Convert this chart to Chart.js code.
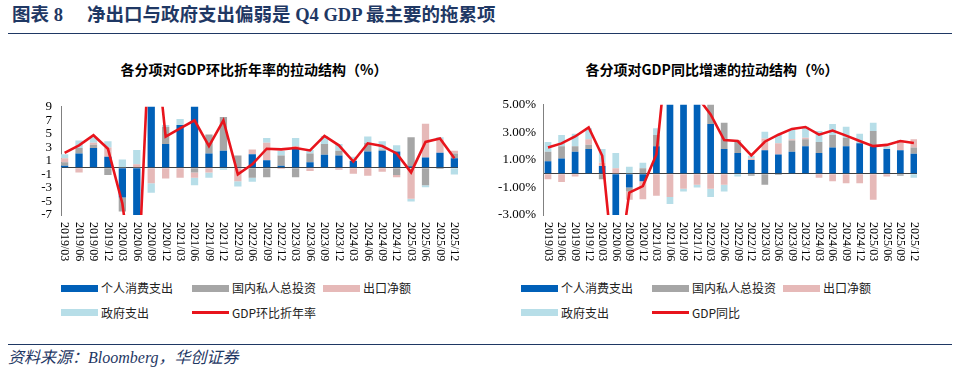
<!DOCTYPE html>
<html><head><meta charset="utf-8">
<script src="https://cdn.jsdelivr.net/npm/chart.js@4.4.1/dist/chart.umd.min.js"></script>
<style>
html,body{margin:0;padding:0;background:#fff;}
#page{position:relative;width:960px;height:380px;overflow:hidden;background:#fff;}
.abs{position:absolute;white-space:nowrap;}
.ttl{font-family:"Liberation Serif","Noto Sans CJK SC",serif;font-weight:700;font-size:18.5px;line-height:22px;color:#1f3864;top:4px;}
.rule{position:absolute;left:8px;width:944px;height:0;border-top:1.5px solid #1f3864;}
.ptitle{position:absolute;white-space:nowrap;transform:translateX(-50%);top:59px;font-family:"Noto Sans CJK SC",sans-serif;font-weight:700;font-size:14px;line-height:20px;color:#000;}
.foot{font-family:"Liberation Serif","Noto Sans CJK SC",serif;font-style:italic;font-size:16px;line-height:20px;color:#1f3864;}
.lgi{position:absolute;height:16px;font-family:"Noto Sans CJK SC",sans-serif;font-size:12px;line-height:16px;color:#222;white-space:nowrap;}
.lgi .sw{position:absolute;left:0;width:37px;}
.lgi .tx{position:absolute;left:40px;top:0;}
canvas{position:absolute;}
</style></head><body>
<div id="page">
  <div class="abs ttl" style="left:12px;">图表 8</div>
  <div class="abs ttl" style="left:87px;">净出口与政府支出偏弱是 Q4 GDP 最主要的拖累项</div>
  <div class="rule" style="top:33px"></div>
  <div class="ptitle" style="left:254px">各分项对GDP环比折年率的拉动结构（%）</div>
  <div class="ptitle" style="left:712px">各分项对GDP同比增速的拉动结构（%）</div>
  <canvas id="c1" width="480" height="185" style="left:0;top:90px;width:480px;height:185px"></canvas>
  <canvas id="c2" width="480" height="185" style="left:480px;top:90px;width:480px;height:185px"></canvas>
  <div id="lg1"></div>
  <div id="lg2"></div>
  <div class="rule" style="top:344px"></div>
  <div class="abs foot" style="left:8px;top:348px">资料来源：Bloomberg，华创证券</div>
</div>
<script>
// ---------- data ----------
const quarters = ['2019/03','2019/06','2019/09','2019/12','2020/03','2020/06','2020/09','2020/12',
  '2021/03','2021/06','2021/09','2021/12','2022/03','2022/06','2022/09','2022/12',
  '2023/03','2023/06','2023/09','2023/12','2024/03','2024/06','2024/09','2024/12',
  '2025/03','2025/06','2025/09','2025/12'];
const seriesNames = ['个人消费支出','国内私人总投资','出口净额','政府支出'];
const qoqLineName = 'GDP环比折年率';
const yoyLineName = 'GDP同比';

// contributions to QoQ annualized GDP (pp)
const qoqPce   = [0.3,2.1,2.9,1.6,-4.4,-20,25,3.5,6.3,10.5,2.1,2.5,0.1,2.0,1.1,0.3,2.8,0.8,1.9,1.8,1.0,2.4,2.5,2.4,0.2,1.5,2.2,1.4];
const qoqInv   = [0.5,0.8,0.5,-1.1,-2.1,-6,10,2.5,-0.1,-0.7,2.8,5.0,1.7,-1.5,-1.4,1.5,-1.4,1.3,1.6,0.7,0,1.3,0.2,-1.1,4.3,-2.6,-0.2,0.7];
const qoqNx    = [0.6,-0.7,0.3,1.4,0,0.5,-2.3,-1.6,-1.4,-0.8,-0.7,0,-2.0,0.7,2.6,-0.2,0.4,-0.5,-0.1,-0.3,-0.9,-1.2,-0.6,-0.3,-4.6,5.0,2.0,0.4];
const qoqGov   = [0.6,1.1,0.8,0.9,1.2,2.1,-1.4,0.3,0.9,-1.1,-0.8,-0.3,-0.8,-0.6,0.7,0.7,1.2,0.5,1.2,1.0,0.6,0.9,1.2,0.9,-0.4,-0.3,0.3,-1.0];
const qoqGdp   = [2.2,3.3,4.8,2.8,-5.3,-21,25,4.6,5.8,7.0,3.2,7.0,-1.0,0.5,2.8,2.7,2.9,2.55,4.7,3.3,0.9,3.6,3.2,2.1,-0.7,3.8,4.3,1.4];

// contributions to YoY GDP (pp)
const yoyPce   = [0.9,1.1,1.6,1.8,0.55,-6,-1.0,-0.55,2.0,9.0,5.5,5.2,3.6,1.8,1.5,1.0,1.7,1.4,1.6,2.0,1.5,1.9,2.0,2.2,2.0,1.8,1.7,1.45];
const yoyInv   = [0.7,0.9,0.4,0.3,-0.4,-3,-0.3,0.4,0.8,2.5,1.5,2.0,1.6,1.9,0.8,-0.15,-0.8,-0.1,0.8,0.5,0.8,0.9,0.6,0,1.1,0,-0.15,0.45];
const yoyNx    = [-0.4,-0.6,-0.2,0.4,0.25,0.4,-0.6,-1.3,-1.6,-1.7,-1.1,-0.8,-1.1,-0.8,0.15,0.1,0.85,0.8,0.1,0.1,-0.3,-0.55,-0.7,-0.7,-1.9,-0.2,0.6,0.6];
const yoyGov   = [0.7,0.8,0.9,0.8,1.0,1.1,0.5,0.4,0.5,-0.5,-0.2,-0.2,-0.6,-0.5,-0.2,0.2,0.5,0.6,0.7,0.8,0.8,0.8,0.8,0.7,0.6,0.2,0.15,-0.3];
const yoyGdp   = [1.9,2.2,2.7,3.35,1.3,-8.5,-1.37,-0.9,1.4,11.0,5.4,5.6,4.3,2.44,2.37,1.32,2.32,2.83,3.25,3.39,2.83,3.13,2.76,2.37,2.0,2.09,2.37,2.23];

const qoqTicks = [-7,-5,-3,-1,1,3,5,7,9];
const yoyTicks = [-3,-1,1,3,5];

// ---------- styles ----------
const BAR_COLORS = ['#0060B8','#A6A6A6','#E6B9B8','#B7DEE8'];
const LINE_COLOR = '#E8141C';
const SERIF = "'Liberation Serif','Times New Roman',serif";
Chart.defaults.animation = false;
Chart.defaults.font.family = SERIF;
Chart.defaults.color = '#000';

function verticalLabels(scale, gap) {
  if (scale._vlPatched) return;
  scale._vlPatched = true;
  const orig = scale._computeLabelItems;
  scale._computeLabelItems = function (chartArea) {
    const items = orig.call(this, chartArea);
    const y0 = this.top + gap;
    items.forEach((it, i) => {
      it.options.rotation = Math.PI / 2;
      it.options.textAlign = 'left';
      it.options.textBaseline = 'middle';
      it.options.translation = [this.getPixelForTick(i), y0];
      it.textOffset = 0;
    });
    return items;
  };
}

function makeChart(id, cfg) {
  const series = [cfg.pce, cfg.inv, cfg.nx, cfg.gov];
  const datasets = series.map((arr, k) => ({
    type: 'bar',
    label: seriesNames[k],
    data: arr.map((v, i) => ({x: i, y: v})),
    backgroundColor: BAR_COLORS[k],
    borderWidth: 0,
    stack: 's',
    order: 1,
    clip: 0,
    barPercentage: cfg.barPct,
    categoryPercentage: 1
  }));
  datasets.push({
    type: 'line',
    label: cfg.lineName,
    data: cfg.gdp.map((v, i) => ({x: i, y: v})),
    borderColor: LINE_COLOR,
    backgroundColor: LINE_COLOR,
    borderWidth: 2.6,
    pointRadius: 0,
    tension: 0,
    order: 0,
    stack: 'line'
  });
  return new Chart(document.getElementById(id), {
    data: {datasets},
    options: {
      responsive: false,
      layout: {padding: {top: 10, right: cfg.padRight, left: 0, bottom: 0}},
      plugins: {legend: {display: false}, tooltip: {enabled: false}},
      scales: {
        x: {
          type: 'linear',
          min: cfg.xMin, max: cfg.xMax,
          offset: false,
          grid: {display: false},
          border: {display: false},
          afterBuildTicks: (s) => { s.ticks = quarters.map((q, i) => ({value: i})); },
          afterFit: (s) => { s.height = 60; verticalLabels(s, 7); },
          ticks: {
            autoSkip: false, minRotation: 90, maxRotation: 90, padding: 7,
            font: {size: 12, family: SERIF}, color: '#000',
            callback: (v) => quarters[v]
          }
        },
        y: {
          stacked: true,
          min: cfg.yMin, max: cfg.yMax,
          afterBuildTicks: (s) => { s.ticks = cfg.ticks.concat([0]).sort((a, b) => a - b).map(v => ({value: v})); },
          afterFit: (s) => { s.width = cfg.yWidth; },
          grid: {
            drawTicks: false,
            color: (c) => (c.tick && c.tick.value === 0) ? '#404040' : 'rgba(0,0,0,0)',
            lineWidth: 1
          },
          border: {display: true, color: '#808080', width: 1},
          ticks: {
            autoSkip: false,
            padding: cfg.tickPad,
            font: {size: 13, family: SERIF}, color: '#000',
            callback: (v) => v === 0 ? '' : cfg.fmt(v)
          }
        }
      }
    }
  });
}

const ch1 = makeChart('c1', {
  pce: qoqPce, inv: qoqInv, nx: qoqNx, gov: qoqGov, gdp: qoqGdp, lineName: qoqLineName,
  ticks: qoqTicks, yMin: -7, yMax: 9, xMin: -0.25, xMax: 27.25,
  yWidth: 61, padRight: 22, barPct: 0.505, tickPad: 9, fmt: (v) => String(v)
});
const ch2 = makeChart('c2', {
  pce: yoyPce, inv: yoyInv, nx: yoyNx, gov: yoyGov, gdp: yoyGdp, lineName: yoyLineName,
  ticks: yoyTicks, yMin: -3, yMax: 5, xMin: -0.37, xMax: 27.23,
  yWidth: 63, padRight: 43, barPct: 0.495, tickPad: 7, fmt: (v) => v.toFixed(2) + '%'
});

function buildLegend(elId, chart, x0) {
  const el = document.getElementById(elId);
  const colW = [0, 131, 262];
  const rowY = [288.3, 312.7];
  chart.data.datasets.forEach((ds, k) => {
    const col = k % 3, row = Math.floor(k / 3);
    const item = document.createElement('div');
    item.className = 'lgi';
    item.style.left = (x0 + colW[col]) + 'px';
    item.style.top = (rowY[row] - 8) + 'px';
    const sw = document.createElement('div');
    sw.className = 'sw';
    if (ds.type === 'line') {
      sw.style.top = '6.7px'; sw.style.height = '2.6px';
      sw.style.background = ds.borderColor;
    } else {
      sw.style.top = '4.5px'; sw.style.height = '7px';
      sw.style.background = ds.backgroundColor;
    }
    const tx = document.createElement('div');
    tx.className = 'tx';
    tx.textContent = ds.label;
    item.appendChild(sw); item.appendChild(tx);
    el.appendChild(item);
  });
}
buildLegend('lg1', ch1, 61);
buildLegend('lg2', ch2, 521);
</script>
</body></html>
